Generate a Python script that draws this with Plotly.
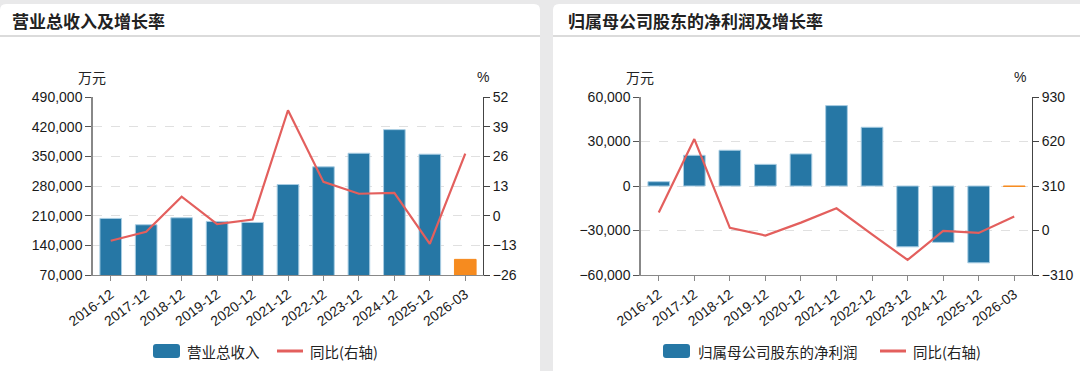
import plotly.graph_objects as go

W, H = 1080, 371

categories = ["2016-12", "2017-12", "2018-12", "2019-12", "2020-12", "2021-12",
              "2022-12", "2023-12", "2024-12", "2025-12", "2026-03"]

revenue = [203500, 188600, 205000, 196400, 194000, 283500, 325200, 357300, 413000, 355000, 106900]
revenue_yoy = [-11.0, -7.1, 8.3, -3.7, -1.7, 46.2, 14.8, 9.6, 10.0, -12.4, 27.2]

net_profit = [2900, 20700, 24100, 14600, 21600, 54200, 39600, -41000, -38000, -51800, -300]
net_profit_yoy = [125, 637, 18, -35, 55, 155, -27, -205, -3, -17, 97]

left_ticks = [70000, 140000, 210000, 280000, 350000, 420000, 490000]
left_ticks2 = [-26, -13, 0, 13, 26, 39, 52]
right_ticks = [-60000, -30000, 0, 30000, 60000]
right_ticks2 = [-310, 0, 310, 620, 930]

BLUE = "#2677a5"
ORANGE = "#f68b1f"
RED = "#e35f5d"
FONT = "Liberation Sans, Arial, Noto Sans CJK SC, sans-serif"
CJK = "Noto Sans CJK SC, Liberation Sans, sans-serif"

n = len(categories)
bar_colors = [BLUE] * (n - 1) + [ORANGE]
bar_edges = ["#a8cde3"] * (n - 1) + [ORANGE]

def px_x(p):
    return p / W

def px_y(p):
    return 1 - p / H

fig = go.Figure()

fig.add_trace(go.Bar(x=categories, y=revenue, name="营业总收入", marker=dict(color=bar_colors, line=dict(color=bar_edges, width=1)),
                     width=0.61, xaxis="x", yaxis="y", showlegend=False))
fig.add_trace(go.Scatter(x=categories, y=revenue_yoy, name="同比(右轴)", mode="lines",
                         line=dict(color=RED, width=2.2), xaxis="x", yaxis="y2", showlegend=False))
fig.add_trace(go.Bar(x=categories, y=net_profit, name="归属母公司股东的净利润", marker=dict(color=bar_colors, line=dict(color=bar_edges, width=1)),
                     width=0.61, xaxis="x2", yaxis="y3", showlegend=False))
fig.add_trace(go.Scatter(x=categories, y=net_profit_yoy, name="同比(右轴)", mode="lines",
                         line=dict(color=RED, width=2.2), xaxis="x2", yaxis="y4", showlegend=False))

ydom = [px_y(275), px_y(97)]
tickfont = dict(family=FONT, size=14, color="#1a1a1a")

common_x = dict(type="category", tickangle=-36, tickfont=tickfont, showgrid=False, showline=True,
                linecolor="#888", linewidth=1, ticks="outside", ticklen=5, tickcolor="#888",
                zeroline=False, fixedrange=True, automargin=False)
common_yl = dict(showgrid=True, gridcolor="#e0e0e0", griddash="dash", gridwidth=1, showline=True,
                 linecolor="#888", linewidth=1.5, ticks="outside", ticklen=6, tickcolor="#555",
                 zeroline=False, tickfont=tickfont, tickformat=",", automargin=False, fixedrange=True)
common_yr = dict(showgrid=False, showline=True, linecolor="#444", linewidth=1, ticks="outside",
                 ticklen=6, tickcolor="#444", zeroline=False, tickfont=tickfont, side="right",
                 automargin=False, fixedrange=True)

fig.update_layout(
    template="none",
    width=W, height=H,
    margin=dict(l=0, r=0, t=0, b=0, autoexpand=False),
    paper_bgcolor="#e9e9ea",
    plot_bgcolor="rgba(0,0,0,0)",
    showlegend=False,
    xaxis=dict(domain=[px_x(93), px_x(483)], anchor="y", **common_x),
    yaxis=dict(domain=ydom, range=[70000, 490000], tickvals=left_ticks, anchor="x", **common_yl),
    yaxis2=dict(range=[-26, 52], tickvals=left_ticks2, overlaying="y", anchor="x", **common_yr),
    xaxis2=dict(domain=[px_x(641), px_x(1032)], anchor="y3", **common_x),
    yaxis3=dict(domain=ydom, range=[-60000, 60000], tickvals=right_ticks, anchor="x2", **common_yl),
    yaxis4=dict(range=[-310, 930], tickvals=right_ticks2, overlaying="y3", anchor="x2", **common_yr),
)

def rounded_rect(x0, y0, x1, y1, r):
    # pixel coords -> paper path (y flipped)
    X = lambda v: px_x(v)
    Y = lambda v: px_y(v)
    return (f"M {X(x0 + r)} {Y(y0)} L {X(x1 - r)} {Y(y0)} Q {X(x1)} {Y(y0)} {X(x1)} {Y(y0 + r)} "
            f"L {X(x1)} {Y(y1 - r)} Q {X(x1)} {Y(y1)} {X(x1 - r)} {Y(y1)} "
            f"L {X(x0 + r)} {Y(y1)} Q {X(x0)} {Y(y1)} {X(x0)} {Y(y1 - r)} "
            f"L {X(x0)} {Y(y0 + r)} Q {X(x0)} {Y(y0)} {X(x0 + r)} {Y(y0)} Z")

shapes = [
    dict(type="path", xref="paper", yref="paper", path=rounded_rect(0, 4, 540, 380, 6),
         fillcolor="white", line=dict(width=0), layer="below"),
    dict(type="path", xref="paper", yref="paper", path=rounded_rect(553, 4, 1086, 380, 6),
         fillcolor="white", line=dict(width=0), layer="below"),
    dict(type="line", xref="paper", yref="paper", x0=0, x1=px_x(540), y0=px_y(36), y1=px_y(36),
         line=dict(color="#cfcfcf", width=1.5), layer="below"),
    dict(type="line", xref="paper", yref="paper", x0=px_x(553), x1=1, y0=px_y(36), y1=px_y(36),
         line=dict(color="#cfcfcf", width=1.5), layer="below"),
    # legend symbols
    dict(type="path", xref="paper", yref="paper", path=rounded_rect(153, 344, 180, 358, 3),
         fillcolor=BLUE, line=dict(width=0)),
    dict(type="line", xref="paper", yref="paper", x0=px_x(277), x1=px_x(303), y0=px_y(351), y1=px_y(351),
         line=dict(color=RED, width=3)),
    dict(type="path", xref="paper", yref="paper", path=rounded_rect(663, 344, 690, 358, 3),
         fillcolor=BLUE, line=dict(width=0)),
    dict(type="line", xref="paper", yref="paper", x0=px_x(880), x1=px_x(906), y0=px_y(351), y1=px_y(351),
         line=dict(color=RED, width=3)),
]
fig.update_layout(shapes=shapes)

annos = [
    dict(text="<b>营业总收入及增长率</b>", x=px_x(10), y=px_y(20), xanchor="left", yanchor="middle",
         font=dict(family=CJK, size=17, color="#222")),
    dict(text="<b>归属母公司股东的净利润及增长率</b>", x=px_x(566), y=px_y(20), xanchor="left", yanchor="middle",
         font=dict(family=CJK, size=17, color="#222")),
    dict(text="万元", x=px_x(92), y=px_y(77), xanchor="center", yanchor="middle",
         font=dict(family=CJK, size=14, color="#222")),
    dict(text="%", x=px_x(483), y=px_y(77), xanchor="center", yanchor="middle",
         font=dict(family=FONT, size=14, color="#222")),
    dict(text="万元", x=px_x(640), y=px_y(77), xanchor="center", yanchor="middle",
         font=dict(family=CJK, size=14, color="#222")),
    dict(text="%", x=px_x(1020), y=px_y(77), xanchor="center", yanchor="middle",
         font=dict(family=FONT, size=14, color="#222")),
    dict(text="营业总收入", x=px_x(185), y=px_y(351), xanchor="left", yanchor="middle",
         font=dict(family=CJK, size=14.5, color="#222")),
    dict(text="同比(右轴)", x=px_x(308), y=px_y(351), xanchor="left", yanchor="middle",
         font=dict(family=CJK, size=14.5, color="#222")),
    dict(text="归属母公司股东的净利润", x=px_x(696), y=px_y(351), xanchor="left", yanchor="middle",
         font=dict(family=CJK, size=14.5, color="#222")),
    dict(text="同比(右轴)", x=px_x(911), y=px_y(351), xanchor="left", yanchor="middle",
         font=dict(family=CJK, size=14.5, color="#222")),
]
for a in annos:
    a.update(xref="paper", yref="paper", showarrow=False)
fig.update_layout(annotations=annos)

fig.write_html("out.html", config={"displayModeBar": False},
               post_script="document.body.style.margin='0';document.body.style.overflow='hidden';")
